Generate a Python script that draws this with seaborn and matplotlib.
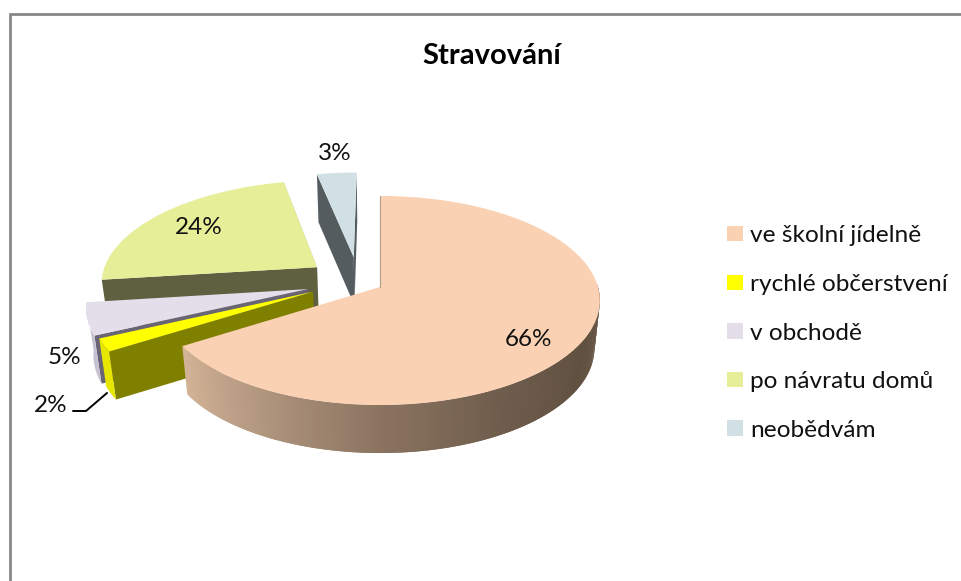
import numpy as np
import matplotlib
matplotlib.use("Agg")
import matplotlib.pyplot as plt
from matplotlib.colors import to_rgb
from matplotlib.transforms import Transform
import seaborn as sns

title = "Stravování"
categories = ["ve školní jídelně", "rychlé občerstvení", "v obchodě", "po návratu domů", "neobědvám"]
values = [66, 2, 5, 23.6, 3.4]
colors = ["#FAD1B3", "#FFFF00", "#E3DEEA", "#E6EE98", "#D0E0E4"]
cut_colors = ["#B39C88", "#808000", "#6A6575", "#5F6040", "#555C60"]
rim_colors = [None, "#E6E600", "#C6C2D2", None, None]

# layout of the exploded 3D pie
APEX = (380.0, 287.0)
PX, PY, K = 218.0, 102.8, 0.129
DEPTH, SHRINK = 48.0, 0.975
explode_uv = [(0, 0), (-0.305, -0.045), (-0.33, -0.02), (-0.296, 0.197), (-0.125, 0.30)]
zorders = [50, 40, 30, 20, 10]
label_pos = [(529, 340), (51, 405), (64, 358), (199, 228), (335, 153)]

sns.set_theme(style="white")
plt.rcParams["font.family"] = ["Lato", "DejaVu Sans"]


def project(uv):
    uv = np.asarray(uv, dtype=float)
    d = 1 + K * uv[..., 1]
    return np.stack([APEX[0] + PX * uv[..., 0] / d, APEX[1] - PY * uv[..., 1] / d], axis=-1)


def drop(xy):
    xy = np.asarray(xy, dtype=float)
    return np.stack([APEX[0] + (xy[..., 0] - APEX[0]) * SHRINK, xy[..., 1] + DEPTH], axis=-1)


class Perspective(Transform):
    input_dims = output_dims = 2
    is_affine = False
    has_inverse = False

    def transform_non_affine(self, values):
        return project(values)


fig = plt.figure(figsize=(9.61, 5.81), dpi=100, facecolor="white")
ax = fig.add_axes([0, 0, 1, 1])
wedges, _ = ax.pie(values, colors=colors, startangle=90, counterclock=False,
                   wedgeprops={"linewidth": 0})
ax.set_aspect("auto")
ax.set_xlim(0, 961)
ax.set_ylim(581, 0)
ax.axis("off")

edges = np.cumsum([0] + values) * 3.6


def rim_point(clock, off):
    a = np.radians(90 - clock)
    return project(np.array([np.cos(a) + off[0], np.sin(a) + off[1]]))


for i, w in enumerate(wedges):
    off = explode_uv[i]
    w.set_center(off)
    w.set_transform(Perspective() + ax.transData)
    w.set_zorder(zorders[i] + 2)
    w.set_clip_on(False)
    apex = project(np.array(off, dtype=float))
    for clock in (edges[i + 1], edges[i]):
        p = rim_point(clock, off)
        if i == 0 and clock == edges[i + 1]:
            continue
        quad = np.array([p, apex, drop(apex), drop(p)])
        if clock == edges[i] and i > 0 and i != 4:
            ax.fill(quad[:, 0], quad[:, 1], color=cut_colors[i], lw=0, zorder=zorders[i])
        elif i in (3, 4):
            tone = "#C4C6BE" if i == 3 else cut_colors[i]
            ax.fill(quad[:, 0], quad[:, 1], color=tone, lw=0, zorder=zorders[i])
    if rim_colors[i]:
        cl = np.linspace(edges[i], edges[i + 1], 12)
        top = np.array([rim_point(c, off) for c in cl])
        poly = np.vstack([top, drop(top)[::-1]])
        ax.fill(poly[:, 0], poly[:, 1], color=rim_colors[i], lw=0, zorder=zorders[i] + 1)

# shaded rim of the large slice: overlapping strips so no seams show
stops = [95, 120, 150, 180, 210, 237.6]
stop_rgb = np.array([to_rgb(c) for c in ["#705E4E", "#60503F", "#6E5C4C", "#8A7360", "#B2977F", "#D4B498"]])
cl = np.linspace(88, edges[1], 160)
for a, b in zip(cl[:-2], cl[2:]):
    t0, t1 = rim_point(a, (0, 0)), rim_point(b, (0, 0))
    quad = np.array([t0, t1, drop(t1), drop(t0)])
    col = [np.interp((a + b) / 2, stops, stop_rgb[:, k]) for k in range(3)]
    ax.fill(quad[:, 0], quad[:, 1], facecolor=col, lw=0, zorder=zorders[0] + 1)
ax.plot([APEX[0], APEX[0]], [196, APEX[1]], color=cut_colors[0], lw=0.8, zorder=zorders[0] + 3)

# text
for v, (x, y) in zip(values, label_pos):
    ax.text(x, y, f"{v:.0f}%", ha="center", va="center", fontsize=17.5, color="#111111", zorder=100)
ax.plot([73, 86, 107], [411, 411, 393], color="black", lw=1.4, zorder=60)
ax.text(492, 56, title, ha="center", va="center", fontsize=21, fontweight="bold", color="black")

leg = ax.legend(wedges, categories, loc="center left", bbox_to_anchor=(727, 333),
                bbox_transform=ax.transData, frameon=False, fontsize=17.6,
                handlelength=0.65, handleheight=0.6, handletextpad=0.29,
                labelspacing=1.13, borderpad=0, borderaxespad=0, labelcolor="#111111")

# frame of the pasted picture
ax.plot([9.5, 9.5, 961], [581, 14, 14], color="#888888", lw=2, solid_joinstyle="miter", zorder=1)

fig.savefig("out.png", dpi=100, facecolor="white")
